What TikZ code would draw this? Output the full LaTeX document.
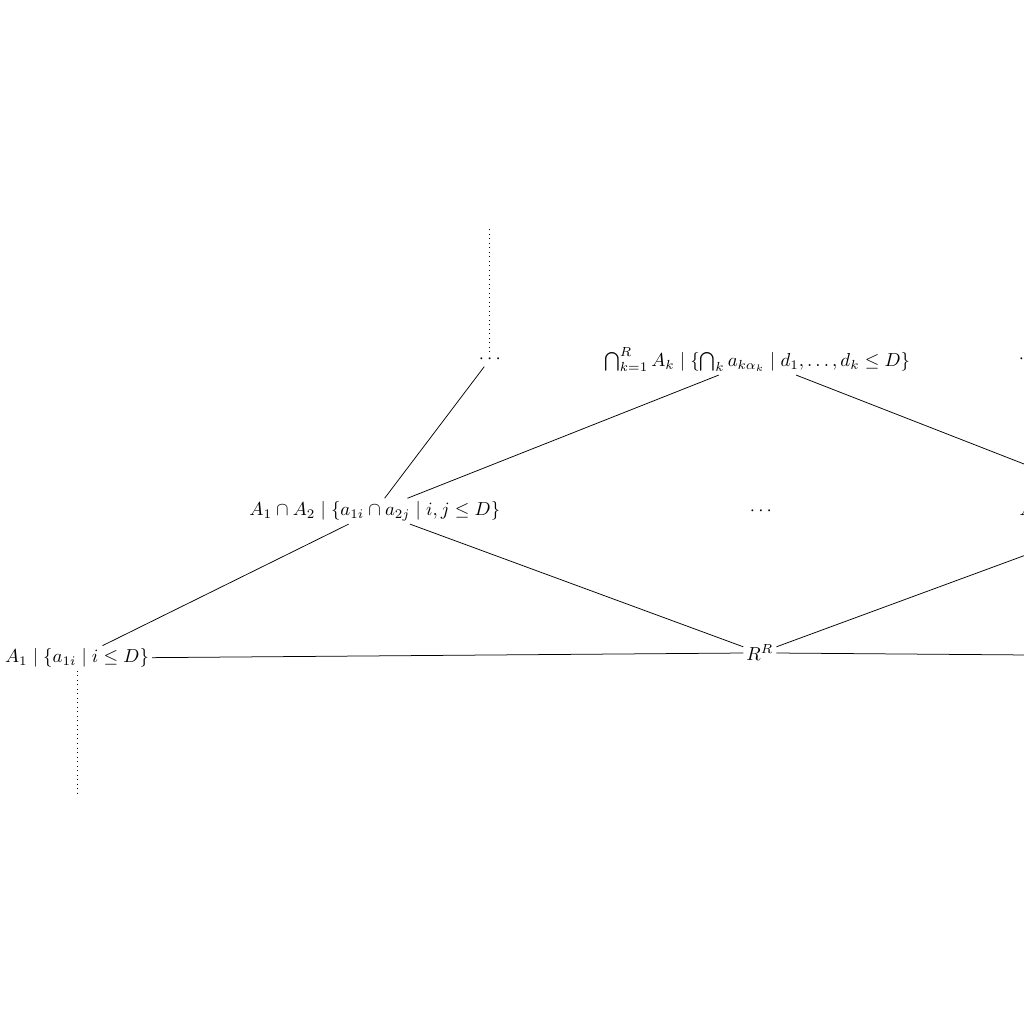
\documentclass[tikz,border=0pt]{standalone}
\usepackage{amssymb}
\usepackage{tikz}
\usetikzlibrary{positioning}

\begin{document}
\begin{tikzpicture}[every node/.style={inner sep=1.5pt}]
        \tikzset{edge/.style = {draw, black}}
        \tikzset{tail/.style = {dotted}}
        \useasboundingbox (0,0) rectangle (19.15,19.15);

        % bottom row
        \node (a1) at (1.44, 6.84) {$A_1 \mid \{a_{1i} \mid i \leq D\}$};
        \node (rr) at (14.21, 6.94) {$R^R$};
        \node (ar) at (26.99, 6.84) {$A_R \mid \{a_{Ri} \mid i \leq D\}$};

        % middle row
        \node (a12) at (7.01, 9.59) {$A_1 \cap A_2 \mid \{a_{1i} \cap a_{2j} \mid i,j \leq D\}$};
        \node (mid) at (14.23, 9.59) {$\cdots$};
        \node (a23) at (21.41, 9.59) {$A_2 \cap A_3 \mid \{a_{2i} \cap a_{3j} \mid i,j \leq D\}$};

        % top row
        \node (dotsl) at (9.16, 12.43) {$\cdots$};
        \node (all) at (14.16, 12.42) {$\bigcap_{k=1}^R A_k \mid \{\bigcap_k a_{k\alpha_k} \mid d_1,\ldots,d_k \leq D\}$};
        \node (dotsr) at (19.26, 12.43) {$\cdots$};

        % edges
        \draw[edge] (a1) -- (a12);
        \draw[edge] (a1) -- (rr);
        \draw[edge] (a12) -- (dotsl);
        \draw[edge] (a12) -- (all);
        \draw[edge] (a12) -- (rr);
        \draw[edge] (ar) -- (a23);
        \draw[edge] (ar) -- (rr);
        \draw[edge] (a23) -- (dotsr);
        \draw[edge] (a23) -- (all);
        \draw[edge] (a23) -- (rr);

        % open ends
        \draw[tail] (dotsl.north) -- ++(0, 2.32);
        \draw[tail] (dotsr.north) -- ++(0, 2.32);
        \draw[tail] (a1.south) -- ++(0, -2.34);
        \draw[tail] (ar.south) -- ++(0, -2.34);

        \end{tikzpicture}
\end{document}
